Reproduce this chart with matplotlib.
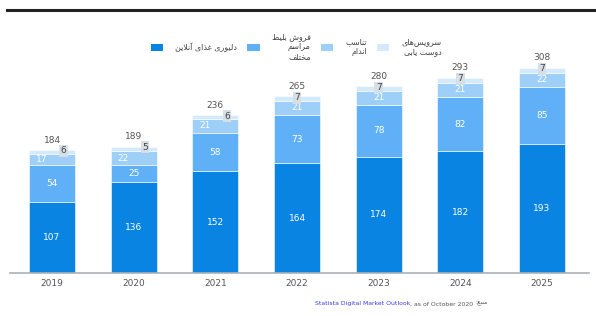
import numpy as np
import matplotlib
matplotlib.use('Agg')
import matplotlib.pyplot as plt
from matplotlib.patches import Patch

plt.rcParams['font.family'] = ['DejaVu Sans']

years = ['2019', '2020', '2021', '2022', '2023', '2024', '2025']
food_delivery = [107, 136, 152, 164, 174, 182, 193]
event_tickets = [54, 25, 58, 73, 78, 82, 85]
fitness = [17, 22, 21, 21, 21, 21, 22]
dating = [6, 5, 6, 7, 7, 7, 7]
totals = [184, 189, 236, 265, 280, 293, 308]

series_names = ['دلیوری غذای آنلاین', 'فروش بلیط\nمراسم\nمختلف', 'تناسب\nاندام', 'سرویس‌های\nدوست یابی']
source_label = 'منبع:'

colors = ['#0a84e3', '#5fb0f6', '#9dcff9', '#d3e9fc']

# --- tiny Arabic/Persian shaper (matplotlib has no bidi / joining) ---
FORMS = {
    'ا': (0xFE8D, 0xFE8E, None, None), 'آ': (0xFE81, 0xFE82, None, None),
    'ب': (0xFE8F, 0xFE90, 0xFE91, 0xFE92), 'ت': (0xFE95, 0xFE96, 0xFE97, 0xFE98),
    'خ': (0xFEA5, 0xFEA6, 0xFEA7, 0xFEA8), 'د': (0xFEA9, 0xFEAA, None, None),
    'ذ': (0xFEAB, 0xFEAC, None, None), 'ر': (0xFEAD, 0xFEAE, None, None),
    'س': (0xFEB1, 0xFEB2, 0xFEB3, 0xFEB4), 'ش': (0xFEB5, 0xFEB6, 0xFEB7, 0xFEB8),
    'ط': (0xFEC1, 0xFEC2, 0xFEC3, 0xFEC4), 'ع': (0xFEC9, 0xFECA, 0xFECB, 0xFECC),
    'غ': (0xFECD, 0xFECE, 0xFECF, 0xFED0), 'ف': (0xFED1, 0xFED2, 0xFED3, 0xFED4),
    'ل': (0xFEDD, 0xFEDE, 0xFEDF, 0xFEE0), 'م': (0xFEE1, 0xFEE2, 0xFEE3, 0xFEE4),
    'ن': (0xFEE5, 0xFEE6, 0xFEE7, 0xFEE8), 'ه': (0xFEE9, 0xFEEA, 0xFEEB, 0xFEEC),
    'و': (0xFEED, 0xFEEE, None, None), 'ی': (0xFBFC, 0xFBFD, 0xFBFE, 0xFBFF),
}
LAM_ALEF = {'ا': (0xFEFB, 0xFEFC), 'آ': (0xFEF5, 0xFEF6)}


def shape_line(s):
    chars = []
    i = 0
    while i < len(s):
        c = s[i]
        if c == 'ل' and i + 1 < len(s) and s[i + 1] in LAM_ALEF:
            chars.append(('LA', s[i + 1]))
            i += 2
        else:
            chars.append((c, None))
            i += 1
    out = []
    for k, (c, extra) in enumerate(chars):
        prev = chars[k - 1][0] if k > 0 else None
        nxt = chars[k + 1][0] if k + 1 < len(chars) else None
        prev_joins = prev in FORMS and FORMS[prev][2] is not None
        if c == 'LA':
            iso, fin = LAM_ALEF[extra]
            out.append(chr(fin if prev_joins else iso))
            continue
        if c not in FORMS:
            if c != '\u200c':
                out.append(c)
            continue
        iso, fin, ini, med = FORMS[c]
        next_joins = ini is not None and (nxt in FORMS or nxt == 'LA')
        if prev_joins and next_joins:
            out.append(chr(med))
        elif prev_joins:
            out.append(chr(fin))
        elif next_joins:
            out.append(chr(ini))
        else:
            out.append(chr(iso))
    return ''.join(out)[::-1]


def fa(s):
    return '\n'.join(shape_line(line) for line in s.split('\n'))


fig = plt.figure(figsize=(5.96, 3.16), dpi=100)
ax = fig.add_axes([10 / 596, 43 / 316, 579 / 596, 230 / 316])

x = np.arange(len(years))
w = 0.565
stack = [food_delivery, event_tickets, fitness, dating]
bottom = np.zeros(len(years))
for vals, col in zip(stack, colors):
    ax.bar(x, vals, w, bottom=bottom, color=col, edgecolor='white', linewidth=0.4, zorder=2)
    bottom = bottom + np.array(vals)

ax.set_xlim(-0.515, 6.575)
ax.set_ylim(0, 230 / 0.668)

# segment labels
fs = 6.5
for j in range(len(years)):
    ax.text(x[j], food_delivery[j] / 2, str(food_delivery[j]), ha='center', va='center',
            color='white', fontsize=fs)
    ax.text(x[j], food_delivery[j] + event_tickets[j] / 2, str(event_tickets[j]), ha='center',
            va='center', color='white', fontsize=fs)
    shift = -0.13 if j < 3 else 0
    y3 = food_delivery[j] + event_tickets[j] + fitness[j] / 2
    ax.text(x[j] + shift, y3, str(fitness[j]), ha='center', va='center', color='white', fontsize=fs)
    shift4 = 0.14 if j < 3 else 0
    y4 = totals[j] - dating[j] / 2 + (2 if j < 3 else 1)
    ax.text(x[j] + shift4, y4, str(dating[j]), ha='center', va='center', color='#444444', fontsize=fs,
            bbox=dict(boxstyle='square,pad=0.15', fc='#d6dee6', ec='none'), zorder=4)
    ax.text(x[j], totals[j] + 8, str(totals[j]), ha='center', va='bottom', color='#555555', fontsize=fs)

for s in ['top', 'right', 'left']:
    ax.spines[s].set_visible(False)
ax.spines['bottom'].set_color('#a9b0b5')
ax.spines['bottom'].set_linewidth(1.2)
ax.set_yticks([])
ax.set_xticks(x)
ax.set_xticklabels(years, fontsize=fs, color='#555555')
ax.tick_params(axis='x', length=0, pad=4)

# legend
handles = [Patch(facecolor=c, edgecolor='none') for c in colors]
leg = fig.legend(handles, [fa(n) for n in series_names], ncol=4, loc='upper center',
                 bbox_to_anchor=(0.497, 0.912), frameon=False, fontsize=5.8,
                 handlelength=1.5, handleheight=1.1, handletextpad=1.5, columnspacing=1.3,
                 labelcolor='#444444', borderpad=0)
for t in leg.get_texts():
    t.set_multialignment('right')

# top rule
fig.add_artist(plt.Line2D([7 / 596, 1], [1 - 10 / 316, 1 - 10 / 316], color='#222222', lw=2.2))

# source line
fig.canvas.draw()
r = fig.canvas.get_renderer()
ys = 1 - 304 / 316
t1 = fig.text(315 / 596, ys, 'Statista Digital Market Outlook', color='#3b3be0',
              fontsize=4.4, va='center', ha='left')
bb = t1.get_window_extent(r)
t2 = fig.text(bb.x1 / 596, ys, ', as of October 2020 ', color='#555555',
              fontsize=4.4, va='center', ha='left')
bb2 = t2.get_window_extent(r)
fig.text(bb2.x1 / 596, ys, fa(source_label), color='#555555',
         fontsize=4.4, va='center', ha='left')

fig.savefig('out.png', dpi=100)
